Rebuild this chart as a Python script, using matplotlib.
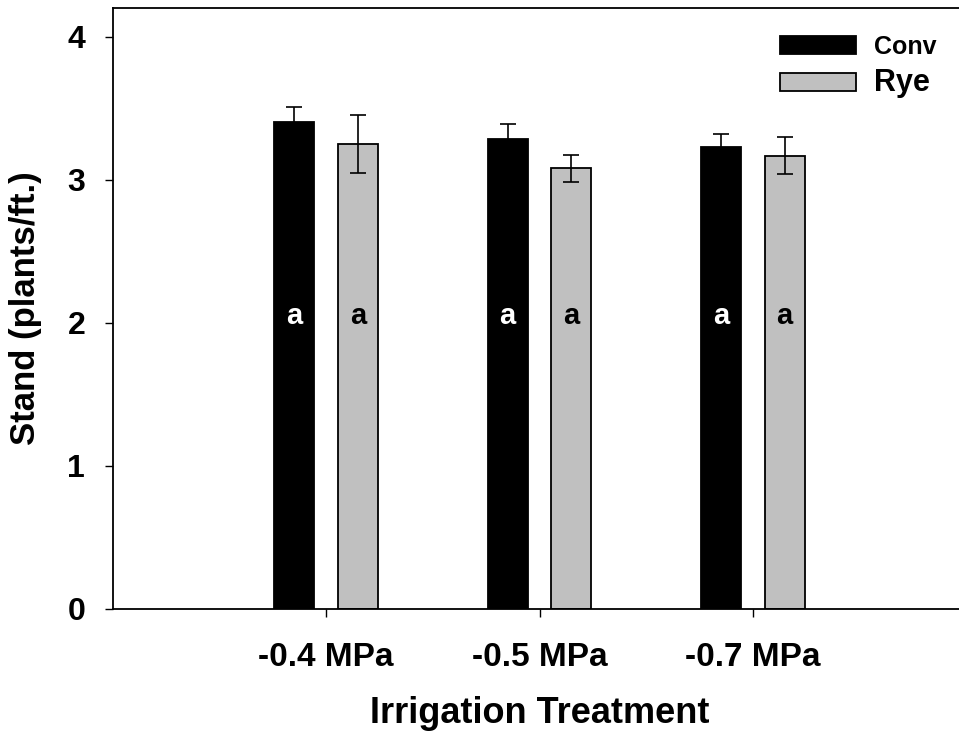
import matplotlib
matplotlib.use("Agg")
import matplotlib.pyplot as plt
import numpy as np
from matplotlib.patches import Patch

plt.rcParams['font.family'] = ['Liberation Sans', 'DejaVu Sans']
plt.rcParams['font.weight'] = 'bold'

categories = ['-0.4 MPa', '-0.5 MPa', '-0.7 MPa']
series_names = ['Conv', 'Rye']
conv_mean = [3.40, 3.285, 3.226]
conv_err = [0.11, 0.105, 0.09]
rye_mean = [3.25, 3.08, 3.168]
rye_err = [0.20, 0.095, 0.13]
letters_conv = ['a', 'a', 'a']
letters_rye = ['a', 'a', 'a']
yticks = [0, 1, 2, 3, 4]

W, H = 959, 735
fig = plt.figure(figsize=(W / 100, H / 100), dpi=100)
ax = fig.add_axes([113 / W, 1 - 609 / H, 853 / W, 601 / H])

x = np.arange(1, len(categories) + 1)
bw = 0.1875
off = 0.15
lw_edge = 1.3

ax.bar(x - off, conv_mean, bw, color='black', edgecolor='black', linewidth=lw_edge, zorder=2)
ax.bar(x + off, rye_mean, bw, color='#c0c0c0', edgecolor='black', linewidth=lw_edge, zorder=2)
ax.errorbar(x - off, conv_mean, yerr=conv_err, fmt='none', ecolor='black', elinewidth=1.2,
            capsize=6, capthick=1.2, zorder=3)
ax.errorbar(x + off, rye_mean, yerr=rye_err, fmt='none', ecolor='black', elinewidth=1.2,
            capsize=6, capthick=1.2, zorder=3)

for xi, t in zip(x - off, letters_conv):
    ax.text(xi, 2.05, t, color='white', ha='center', va='center', fontsize=21, fontweight='bold', zorder=4)
for xi, t in zip(x + off, letters_rye):
    ax.text(xi, 2.05, t, color='black', ha='center', va='center', fontsize=21, fontweight='bold', zorder=4)

ax.set_xlim(0, 4)
ax.set_ylim(0, 4.2)
ax.set_xticks(x)
ax.set_xticklabels(categories)
ax.set_yticks(yticks)
ax.set_yticklabels([str(v) for v in yticks])

for s in ax.spines.values():
    s.set_linewidth(1.3)
ax.tick_params(axis='both', direction='out', length=6, width=1.0)
ax.tick_params(axis='y', pad=14, labelsize=23)
ax.tick_params(axis='x', pad=18, labelsize=24)

ax.set_xlabel('Irrigation Treatment', fontsize=26, fontweight='bold')
ax.xaxis.set_label_coords(0.5, -0.145)
ax.set_ylabel('Stand (plants/ft.)', fontsize=25, fontweight='bold')
ax.yaxis.set_label_coords(-0.083, 0.5)

handles = [Patch(facecolor='black', edgecolor='black', linewidth=1.3),
           Patch(facecolor='#c0c0c0', edgecolor='black', linewidth=1.3)]
leg = ax.legend(handles, series_names, loc='upper left', bbox_to_anchor=(780 / W, 1 - 35 / H),
                bbox_transform=fig.transFigure, frameon=False, fontsize=18,
                handlelength=3.05, handleheight=0.72, handletextpad=0.72,
                labelspacing=0.35, borderpad=0, borderaxespad=0)
leg.get_texts()[1].set_fontsize(22)

fig.savefig('out.png', dpi=100)
